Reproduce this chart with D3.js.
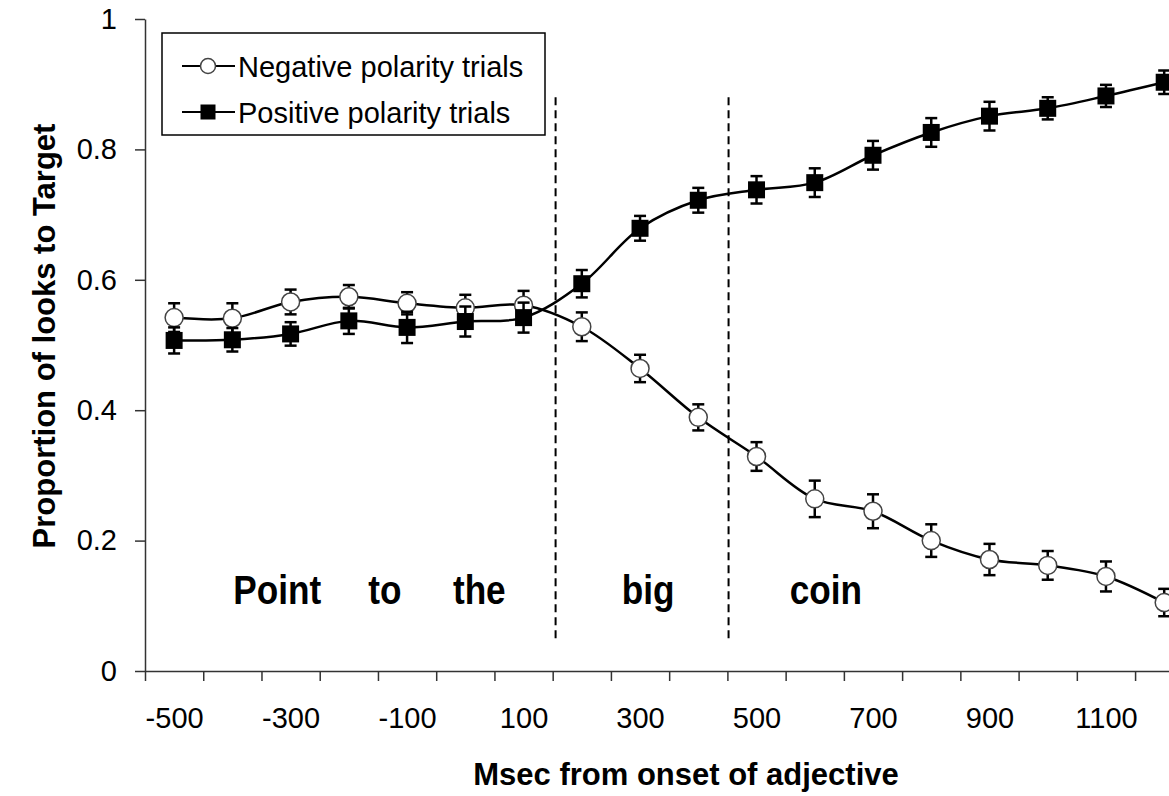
<!DOCTYPE html>
<head>
    <meta charset="utf-8">
    <script src="https://cdn.jsdelivr.net/npm/d3@7/dist/d3.min.js"></script>

    <style type="text/css">
        body { margin: 0; background: white; }
        svg { display: block; }
        text { font-family: "Liberation Sans", Arial, sans-serif; fill: black; }

        .axis path,
        .axis line {
            fill: none;
            stroke: #333;
            stroke-width: 1.5px; }

        .axis text { font-size: 29px; }

        .title { font-weight: bold; font-size: 31px; }
        .word { font-weight: bold; font-size: 40px; text-anchor: middle; }
        .legend text { font-size: 29px; }
    </style>
</head>

<body>
    <div id="chart"></div>

    <script type="text/javascript">
        // categories (msec from onset of adjective)
        var msec = [-500, -400, -300, -200, -100, 0, 100, 200, 300, 400, 500, 600, 700, 800, 900, 1000, 1100, 1200];

        // proportion of looks to target
        var negative = [0.542, 0.541, 0.566, 0.574, 0.564, 0.557, 0.561, 0.528, 0.464, 0.389,
                        0.329, 0.264, 0.245, 0.200, 0.171, 0.162, 0.145, 0.105];
        var negativeErr = [0.022, 0.023, 0.019, 0.018, 0.017, 0.020, 0.022, 0.022, 0.021, 0.020,
                           0.022, 0.028, 0.026, 0.025, 0.024, 0.022, 0.023, 0.021];
        var positive = [0.507, 0.508, 0.517, 0.537, 0.527, 0.536, 0.542, 0.594, 0.679, 0.722,
                        0.738, 0.749, 0.791, 0.826, 0.851, 0.863, 0.882, 0.903];
        var positiveErr = [0.020, 0.018, 0.018, 0.020, 0.024, 0.023, 0.023, 0.021, 0.019, 0.019,
                           0.021, 0.022, 0.022, 0.022, 0.022, 0.017, 0.017, 0.018];

        var xTickLabels = [-500, -300, -100, 100, 300, 500, 700, 900, 1100];
        var yTicks = [0, 0.2, 0.4, 0.6, 0.8, 1];

        // word onsets (dashed) and the spoken words
        var wordOnsets = [155, 452];
        var words = ["Point", "to", "the", "big", "coin"];
        var wordMsec = [-323, -138, 24, 314, 619];

        var width = 1169, height = 796;
        var plotLeft = 145, plotTop = 19, plotBottom = 671, step = 58.24;

        var svg = d3.select("#chart").append("svg")
            .attr("width", width)
            .attr("height", height);

        var x = d3.scaleLinear()
            .domain([-550, 1250])
            .range([plotLeft, plotLeft + 18 * step]);

        var y = d3.scaleLinear()
            .domain([0, 1])
            .range([plotBottom, plotTop]);

        // y axis
        var yAxis = d3.axisLeft(y)
            .tickValues(yTicks)
            .tickSize(10)
            .tickSizeOuter(0)
            .tickPadding(18)
            .tickFormat(function (d) { return (d === 0 || d === 1) ? String(d) : d.toFixed(1); });

        svg.append("g")
            .attr("class", "axis")
            .attr("transform", "translate(" + plotLeft + ",0)")
            .call(yAxis);

        // x axis: ticks between categories
        var xAxis = d3.axisBottom(x)
            .tickValues(d3.range(-550, 1251, 100))
            .tickSize(10)
            .tickSizeOuter(0)
            .tickFormat("");

        svg.append("g")
            .attr("class", "axis")
            .attr("transform", "translate(0," + plotBottom + ")")
            .call(xAxis);

        var xLabels = d3.axisBottom(x)
            .tickValues(xTickLabels)
            .tickSize(0)
            .tickFormat(function (d) { return String(d); });

        var lab = svg.append("g")
            .attr("class", "axis")
            .attr("transform", "translate(0," + plotBottom + ")")
            .call(xLabels);
        lab.select(".domain").remove();
        lab.selectAll("text").attr("y", 57).attr("dy", 0);

        // axis titles
        svg.append("text")
            .attr("class", "title")
            .attr("x", 686)
            .attr("y", 785)
            .attr("text-anchor", "middle")
            .text("Msec from onset of adjective");

        svg.append("text")
            .attr("class", "title")
            .attr("transform", "translate(55,336) rotate(-90)")
            .attr("text-anchor", "middle")
            .text("Proportion of looks to Target");

        // dashed word boundaries
        svg.selectAll("line.onset")
            .data(wordOnsets)
            .enter().append("line")
            .attr("class", "onset")
            .attr("x1", function (d) { return x(d); })
            .attr("x2", function (d) { return x(d); })
            .attr("y1", y(0.88))
            .attr("y2", y(0.047))
            .attr("stroke", "black")
            .attr("stroke-width", 2)
            .attr("stroke-dasharray", "8,5");

        // words
        svg.selectAll("text.word")
            .data(words)
            .enter().append("text")
            .attr("class", "word")
            .attr("transform", function (d, i) {
                return "translate(" + x(wordMsec[i]) + ",604) scale(0.88,1)";
            })
            .text(function (d) { return d; });

        // series
        var series = [
            { name: "Negative polarity trials", values: negative, err: negativeErr, marker: "circle" },
            { name: "Positive polarity trials", values: positive, err: positiveErr, marker: "square" }
        ];

        var line = d3.line()
            .x(function (d, i) { return x(msec[i]); })
            .y(function (d) { return y(d); })
            .curve(d3.curveCatmullRom);

        series.forEach(function (s) {
            svg.append("path")
                .datum(s.values)
                .attr("d", line)
                .attr("fill", "none")
                .attr("stroke", "black")
                .attr("stroke-width", 2.5);
        });

        series.forEach(function (s) {
            var g = svg.append("g");
            var pts = s.values.map(function (v, i) { return { ms: msec[i], v: v, e: s.err[i] }; });

            var eb = g.selectAll("g.err")
                .data(pts)
                .enter().append("g")
                .attr("stroke", "black")
                .attr("stroke-width", 2.5);
            eb.append("line")
                .attr("x1", function (d) { return x(d.ms); })
                .attr("x2", function (d) { return x(d.ms); })
                .attr("y1", function (d) { return y(d.v - d.e); })
                .attr("y2", function (d) { return y(d.v + d.e); });
            eb.append("line")
                .attr("x1", function (d) { return x(d.ms) - 6; })
                .attr("x2", function (d) { return x(d.ms) + 6; })
                .attr("y1", function (d) { return y(d.v + d.e); })
                .attr("y2", function (d) { return y(d.v + d.e); });
            eb.append("line")
                .attr("x1", function (d) { return x(d.ms) - 6; })
                .attr("x2", function (d) { return x(d.ms) + 6; })
                .attr("y1", function (d) { return y(d.v - d.e); })
                .attr("y2", function (d) { return y(d.v - d.e); });

            if (s.marker === "circle") {
                g.selectAll("circle")
                    .data(pts)
                    .enter().append("circle")
                    .attr("cx", function (d) { return x(d.ms); })
                    .attr("cy", function (d) { return y(d.v); })
                    .attr("r", 9)
                    .attr("fill", "white")
                    .attr("stroke", "#444")
                    .attr("stroke-width", 1.5);
            } else {
                g.selectAll("rect")
                    .data(pts)
                    .enter().append("rect")
                    .attr("x", function (d) { return x(d.ms) - 8.5; })
                    .attr("y", function (d) { return y(d.v) - 8.5; })
                    .attr("width", 17)
                    .attr("height", 17)
                    .attr("fill", "black");
            }
        });

        // legend
        var legend = svg.append("g").attr("class", "legend");
        legend.append("rect")
            .attr("x", 162).attr("y", 33)
            .attr("width", 383).attr("height", 102)
            .attr("fill", "white")
            .attr("stroke", "black")
            .attr("stroke-width", 1.5);

        var rows = legend.selectAll("g.row")
            .data(series)
            .enter().append("g")
            .attr("transform", function (d, i) { return "translate(0," + (66 + i * 46) + ")"; });

        rows.append("line")
            .attr("x1", 182).attr("x2", 235)
            .attr("stroke", "black")
            .attr("stroke-width", 2);
        rows.each(function (d) {
            var r = d3.select(this);
            if (d.marker === "circle") {
                r.append("circle").attr("cx", 208).attr("r", 7.5)
                    .attr("fill", "white").attr("stroke", "#444").attr("stroke-width", 1.5);
            } else {
                r.append("rect").attr("x", 200.5).attr("y", -7.5)
                    .attr("width", 15).attr("height", 15).attr("fill", "black");
            }
        });
        rows.append("text")
            .attr("x", 238)
            .attr("y", 11)
            .text(function (d) { return d.name; });
    </script>
</body>
</html>
